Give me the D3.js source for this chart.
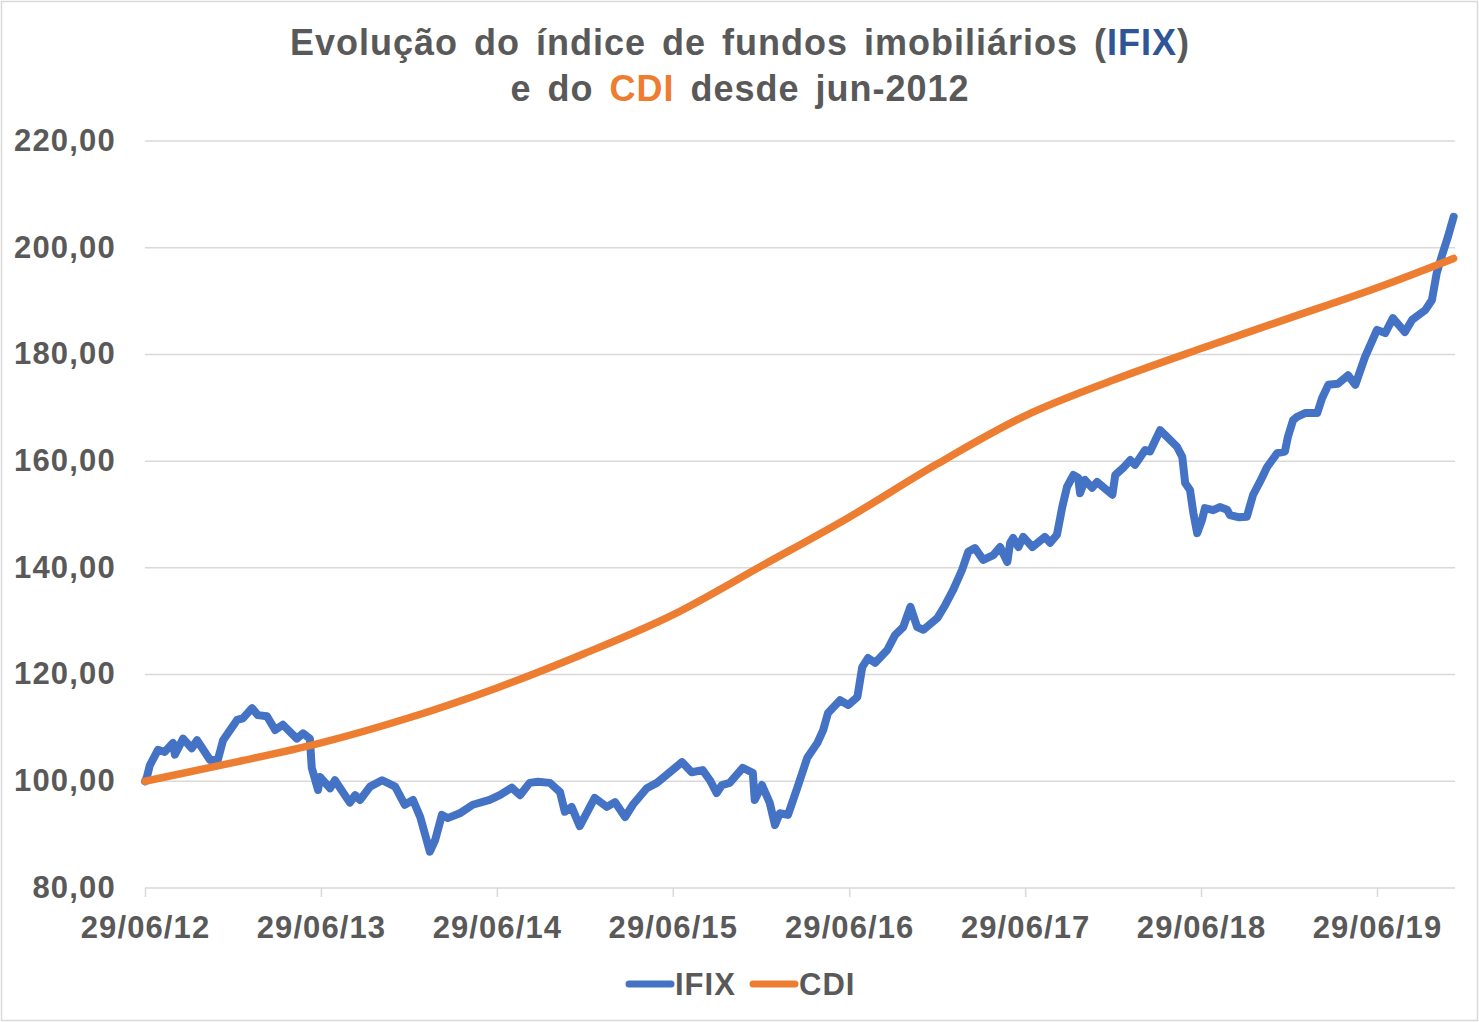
<!DOCTYPE html>
<html>
<head>
<meta charset="utf-8">
<script src="https://cdn.jsdelivr.net/npm/d3@7"></script>
<style>
  html, body { margin: 0; padding: 0; background: #ffffff; }
  svg { display: block; }
  text { font-family: "Liberation Sans", Arial, sans-serif; font-weight: bold; fill: #595959; }
</style>
</head>
<body>
<svg id="chart" width="1479" height="1022"></svg>
<script>
// ---------------- DATA ----------------
const seriesNames = ["IFIX", "CDI"];
const titleLine1 = ["Evolução do índice de fundos imobiliários (", "IFIX", ")"];
const titleLine2 = ["e do ", "CDI", " desde jun-2012"];
const yTickValues = [80, 100, 120, 140, 160, 180, 200, 220];
const xTickDates = ["2012-06-29", "2013-06-29", "2014-06-29", "2015-06-29", "2016-06-29", "2017-06-29", "2018-06-29", "2019-06-29"];

const ifixDates = [
  "2012-06-29","2012-07-03","2012-07-09","2012-07-26","2012-08-09","2012-08-26","2012-08-30","2012-09-16","2012-10-04","2012-10-15",
  "2012-11-11","2012-11-27","2012-12-08","2013-01-06","2013-01-18","2013-02-06","2013-02-18","2013-03-09","2013-03-26","2013-04-11",
  "2013-05-10","2013-05-23","2013-06-06","2013-06-10","2013-06-23","2013-06-27","2013-07-18","2013-07-28","2013-08-28","2013-09-08",
  "2013-09-18","2013-10-09","2013-11-03","2013-11-30","2013-12-20","2014-01-06","2014-01-21","2014-02-10","2014-02-21","2014-03-07",
  "2014-03-19","2014-04-13","2014-05-10","2014-06-14","2014-07-05","2014-07-30","2014-08-16","2014-09-05","2014-09-22","2014-10-17",
  "2014-11-07","2014-11-17","2014-12-01","2014-12-18","2015-01-18","2015-02-12","2015-03-01","2015-03-22","2015-04-07","2015-05-06",
  "2015-05-27","2015-06-23","2015-07-18","2015-08-07","2015-08-30","2015-09-14","2015-09-28","2015-10-09","2015-10-25","2015-11-21",
  "2015-12-12","2015-12-16","2015-12-31","2016-01-16","2016-01-27","2016-02-06","2016-02-23","2016-03-13","2016-04-03","2016-04-24",
  "2016-05-06","2016-05-16","2016-06-10","2016-06-27","2016-07-16","2016-07-26","2016-08-07","2016-08-22","2016-09-16","2016-10-02",
  "2016-10-19","2016-11-03","2016-11-17","2016-11-30","2016-12-29","2017-01-14","2017-01-31","2017-02-18","2017-03-03","2017-03-17",
  "2017-04-03","2017-04-24","2017-05-08","2017-05-23","2017-05-29","2017-06-04","2017-06-15","2017-06-25","2017-07-14","2017-08-09",
  "2017-08-20","2017-09-03","2017-09-14","2017-09-24","2017-10-07","2017-10-17","2017-10-21","2017-10-31","2017-11-15","2017-11-25",
  "2017-12-27","2018-01-02","2018-01-18","2018-02-02","2018-02-12","2018-03-05","2018-03-15","2018-04-05","2018-04-20","2018-05-10",
  "2018-05-21","2018-05-27","2018-06-06","2018-06-13","2018-06-21","2018-07-01","2018-07-07","2018-07-24","2018-08-07","2018-08-22",
  "2018-08-28","2018-09-14","2018-10-02","2018-10-15","2018-10-29","2018-11-13","2018-12-04","2018-12-20","2018-12-26","2019-01-06",
  "2019-01-14","2019-01-31","2019-02-25","2019-03-07","2019-03-20","2019-04-09","2019-04-30","2019-05-15","2019-06-04","2019-06-29",
  "2019-07-16","2019-08-01","2019-08-26","2019-09-10","2019-10-07","2019-10-21","2019-10-31","2019-11-11","2019-11-23","2019-12-05"
];
const ifixValues = [
  100.0,100.8,103.0,105.9,105.5,107.2,105.0,108.0,106.2,107.7,
  104.0,104.0,107.7,111.5,111.8,113.7,112.4,112.2,109.6,110.6,
  108.0,109.0,108.0,102.5,98.4,100.8,98.7,100.2,96.0,97.4,
  96.5,99.0,100.2,99.0,95.6,96.5,93.3,86.8,89.0,93.7,
  93.1,94.0,95.6,96.5,97.4,98.8,97.4,99.7,99.9,99.7,
  98.0,94.3,95.2,91.6,96.9,95.2,96.1,93.3,95.6,98.7,
  99.7,101.7,103.6,101.7,102.1,100.2,97.8,99.3,99.7,102.5,
  101.6,96.5,99.3,96.0,91.8,94.0,93.7,98.7,104.4,107.2,
  109.6,112.8,115.2,114.3,115.8,121.4,123.1,122.2,124.6,127.4,
  128.9,132.7,128.9,128.4,130.6,133.0,135.9,139.6,143.0,143.7,
  141.5,142.4,143.9,141.1,144.7,145.6,143.9,145.8,143.9,145.8,
  144.7,146.2,151.4,155.2,157.4,156.9,154.0,156.5,155.0,156.1,
  153.7,157.4,158.7,160.2,159.3,162.1,161.8,165.8,164.5,162.7,
  160.8,155.9,154.6,150.3,146.5,149.0,151.2,150.8,151.4,150.9,
  149.9,149.5,149.6,153.7,156.1,158.9,161.5,161.8,164.5,167.7,
  168.3,169.0,169.0,171.8,174.3,174.5,176.1,174.3,179.5,184.6,
  184.0,186.8,184.2,186.5,188.3,190.2,195.3,198.6,202.0,205.8
];

const cdiDates = [
  "2012-06-29","2012-12-29","2013-06-29","2013-12-29","2014-06-29","2014-12-29","2015-06-29","2015-12-29",
  "2016-06-29","2016-12-29","2017-06-29","2017-12-29","2018-06-29","2018-12-29","2019-06-29","2019-12-05"
];
const cdiValues = [
  100.0,103.5,107.2,111.9,117.5,124.0,131.2,140.3,
  149.5,159.5,168.5,175.2,181.1,186.8,192.5,198.0
];

// ---------------- CHART ----------------
const parse = d3.timeParse("%Y-%m-%d");
const fmt = d3.timeFormat("%d/%m/%y");
const svg = d3.select("#chart");
const W = 1479, H = 1022;

// frame
svg.append("rect").attr("x", 1.5).attr("y", 1.5).attr("width", W - 3).attr("height", H - 3)
  .attr("fill", "#ffffff").attr("stroke", "#d9d9d9").attr("stroke-width", 1.5);

const x = d3.scaleTime()
  .domain([parse(xTickDates[0]), parse(xTickDates[xTickDates.length - 1])])
  .range([145, 1377]);
const y = d3.scaleLinear().domain([80, 220]).range([888, 141]);
const xEnd = 1455;

// gridlines
svg.append("g").selectAll("line").data(yTickValues.filter(v => v !== 80)).join("line")
  .attr("x1", 145).attr("x2", xEnd)
  .attr("y1", d => y(d)).attr("y2", d => y(d))
  .attr("stroke", "#d9d9d9").attr("stroke-width", 1.5);

// y axis labels
const yFmt = v => d3.format(".2f")(v).replace(".", ",");
const yAxis = d3.axisLeft(y).tickValues(yTickValues).tickSize(0).tickPadding(0).tickFormat(yFmt);
const gy = svg.append("g").attr("transform", "translate(116,0)").call(yAxis);
gy.select(".domain").remove();
gy.selectAll("text").attr("font-size", "31px").attr("fill", "#595959")
  .attr("letter-spacing", "1.2px").attr("dy", "0.3em")
  .attr("font-family", "Liberation Sans, Arial, sans-serif").attr("font-weight", "bold");

// x axis
const xAxis = d3.axisBottom(x).tickValues(xTickDates.map(parse)).tickSize(9).tickPadding(19).tickFormat(fmt);
const gx = svg.append("g").attr("transform", "translate(0,888)").call(xAxis);
gx.select(".domain").attr("d", `M145,0H${xEnd}`).attr("stroke", "#d9d9d9").attr("stroke-width", 1.5);
gx.selectAll(".tick line").attr("stroke", "#d9d9d9").attr("stroke-width", 1.5);
gx.selectAll("text").attr("font-size", "31px").attr("fill", "#595959")
  .attr("letter-spacing", "1.1px")
  .attr("font-family", "Liberation Sans, Arial, sans-serif").attr("font-weight", "bold");

// lines
const line = d3.line().x(d => x(d.date)).y(d => y(d.value)).curve(d3.curveLinear);
const ifix = ifixDates.map((d, i) => ({ date: parse(d), value: ifixValues[i] }));
const cdi = cdiDates.map((d, i) => ({ date: parse(d), value: cdiValues[i] }));

svg.append("path").datum(ifix).attr("d", line).attr("fill", "none")
  .attr("stroke", "#4472C4").attr("stroke-width", 8).attr("stroke-linejoin", "round").attr("stroke-linecap", "round");
svg.append("path").datum(cdi).attr("d", line.curve(d3.curveMonotoneX)).attr("fill", "none")
  .attr("stroke", "#ED7D31").attr("stroke-width", 7.5).attr("stroke-linejoin", "round").attr("stroke-linecap", "round");

// title
const title = svg.append("text").attr("text-anchor", "middle").attr("font-size", "36px")
  .attr("letter-spacing", "1px").attr("word-spacing", "5px").attr("x", 740).attr("y", 55);
title.append("tspan").text(titleLine1[0]);
title.append("tspan").text(titleLine1[1]).style("fill", "#2F5597");
title.append("tspan").text(titleLine1[2]);
const title2 = svg.append("text").attr("text-anchor", "middle").attr("font-size", "36px")
  .attr("letter-spacing", "1px").attr("word-spacing", "5px").attr("x", 740).attr("y", 101);
title2.append("tspan").text(titleLine2[0]);
title2.append("tspan").text(titleLine2[1]).style("fill", "#ED7D31");
title2.append("tspan").text(titleLine2[2]);

// legend
const legendColors = ["#4472C4", "#ED7D31"];
const legendX = [629, 753];
const lg = svg.append("g");
seriesNames.forEach((name, i) => {
  lg.append("line").attr("x1", legendX[i]).attr("x2", legendX[i] + 42)
    .attr("y1", 984).attr("y2", 984)
    .attr("stroke", legendColors[i]).attr("stroke-width", 7).attr("stroke-linecap", "round");
  lg.append("text").attr("x", legendX[i] + 46).attr("y", 995).attr("font-size", "31px")
    .attr("letter-spacing", "1px").text(name);
});
</script>
</body>
</html>
